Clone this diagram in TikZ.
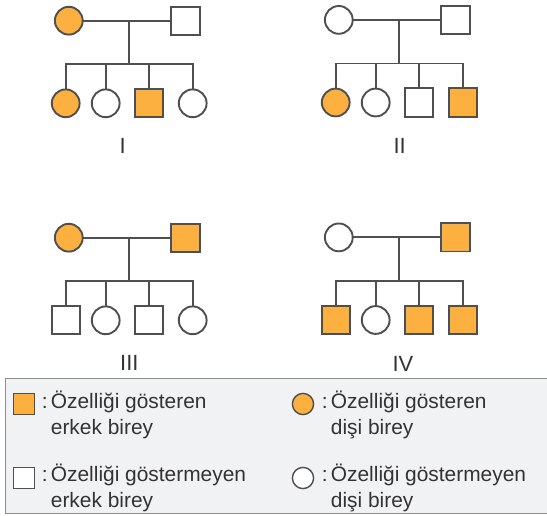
\documentclass[tikz,border=0pt]{standalone}
\usepackage{fontspec}
\setmainfont{Liberation Sans}
\definecolor{trait}{HTML}{FBB040}
\definecolor{ink}{HTML}{4F4F4F}
\definecolor{panel}{HTML}{F1F2F3}
\definecolor{frame}{HTML}{8E8E8E}
\definecolor{words}{HTML}{333333}
\tikzset{
  ind/.style={draw=ink, line width=1.9pt, inner sep=0pt, outer sep=0pt},
  fem/.style={ind, circle, minimum size=27.8pt, fill=white},
  femA/.style={fem, fill=trait},
  mal/.style={ind, rectangle, minimum size=28.2pt, fill=white},
  malA/.style={mal, fill=trait},
  link/.style={draw=ink, line width=1.8pt},
  gen/.style={font=\fontsize{22}{22}\selectfont, text=words, inner sep=0pt},
  keysym/.style={minimum size=21.2pt, line width=1.4pt},
  legtext/.style={font=\fontsize{20.9}{24}\selectfont, text=words, inner sep=0pt, anchor=base west}
}
% #1 name prefix, #2/#3 shift, #4 mother, #5 father, #6-#9 children
\newcommand\pedigreefamily[9]{%
  \begin{scope}[shift={(#2,#3)}]
    \node[#4] (#1m) at (68.8,20.7) {};
    \node[#5] (#1f) at (185.5,20.7) {};
    \coordinate (#1u) at (128.7,20.7);
    \coordinate (#1s) at (128.7,64.3);
    \node[#6] (#1c1) at (65.7,103.3) {};
    \node[#7] (#1c2) at (105.7,103.3) {};
    \node[#8] (#1c3) at (149.0,103.3) {};
    \node[#9] (#1c4) at (192.7,103.3) {};
  \end{scope}
  \draw[link] (#1m) -- (#1f);
  \draw[link] (#1u) -- (#1s);
  \draw[link] (#1c1) |- (#1s) -| (#1c4);
  \draw[link] (#1c2 |- #1s) -- (#1c2);
  \draw[link] (#1c3 |- #1s) -- (#1c3);
}
\begin{document}
\begin{tikzpicture}[x=1pt, y=-1pt]
  \useasboundingbox (0,0) rectangle (547,516);

  % the four families
  \pedigreefamily{A}{0}{0}{femA}{mal}{femA}{fem}{malA}{fem}
  \pedigreefamily{B}{270}{-0.8}{fem}{mal}{femA}{fem}{mal}{malA}
  \pedigreefamily{C}{0}{217}{femA}{malA}{mal}{fem}{mal}{fem}
  \pedigreefamily{D}{270}{216.7}{fem}{malA}{malA}{fem}{malA}{malA}

  \node[gen] (nI)   at (122.7,146) {I};
  \node[gen] (nII)  at (399.7,146) {II};
  \node[gen] (nIII) at (129.4,363) {III};
  \node[gen] (nIV)  at (403.0,363.5) {IV};

  % key
  \draw[draw=frame, fill=panel, line width=1.4pt] (5.7,378.5) rectangle (548,513.5);

  \node[malA, keysym] (kMa) at (24,404) {};
  \node[legtext] (kMa1) at (50.7,408.3) {\llap{:\kern3.2pt}Özelliği gösteren};
  \node[legtext] (kMa2) at (50.7,434) {erkek birey};

  \node[femA, keysym] (kFa) at (303,404) {};
  \node[legtext] (kFa1) at (330.7,408.3) {\llap{:\kern3.2pt}Özelliği gösteren};
  \node[legtext] (kFa2) at (330.7,434) {dişi birey};

  \node[mal, keysym] (kMu) at (24,478) {};
  \node[legtext] (kMu1) at (50.7,481.7) {\llap{:\kern3.2pt}Özelliği göstermeyen};
  \node[legtext] (kMu2) at (50.7,507) {erkek birey};

  \node[fem, keysym] (kFu) at (303,478) {};
  \node[legtext] (kFu1) at (330.7,481.7) {\llap{:\kern3.2pt}Özelliği göstermeyen};
  \node[legtext] (kFu2) at (330.7,507) {dişi birey};
\end{tikzpicture}
\end{document}
